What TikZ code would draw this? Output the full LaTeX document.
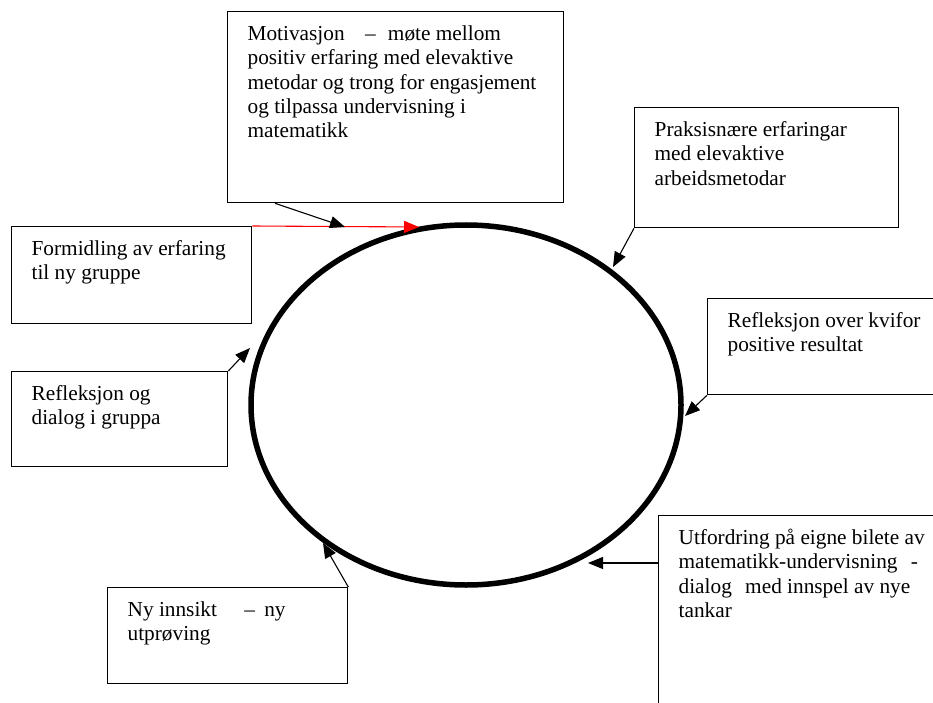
\documentclass[tikz,border=0pt]{standalone}
\usepackage{fontspec}
\setmainfont{Liberation Serif}
\usetikzlibrary{arrows.meta,shapes.geometric}

% innhald i boks: hogd, breidd, tekst (toppjustert)
\newcommand{\boksinnhald}[3]{\parbox[c][#1][t]{#2}{\raggedright\rule{0pt}{29pt}#3}}

\tikzset{
    boks/.style={draw, line width=1.3pt, anchor=north west, inner xsep=20pt,
        inner ysep=0pt, font=\fontsize{21.3}{24.2}\selectfont},
    pil/.style={-{Triangle[length=15pt,width=12pt]}, line width=1.1pt},
}

\begin{document}
\begin{tikzpicture}[x=1pt,y=-1pt]
    \useasboundingbox (0,0) rectangle (933,703);

    % Sirkelen
    \node[ellipse, draw, line width=5.5pt, minimum width=430pt, minimum height=360pt] (sirkel) at (466,405) {};

    % Boksane
    \node[boks] (motiv) at (227,11) {\boksinnhald{191pt}{296pt}{Motivasjon\hspace{15pt} --\hspace{7pt} møte mellom\\
        positiv erfaring med elevaktive\\ metodar og trong for engasjement\\ og tilpassa undervisning i\\ matematikk}};
    \node[boks] (praks) at (634,107) {\boksinnhald{120pt}{224pt}{Praksisnære erfaringar\\ med elevaktive\\ arbeidsmetodar}};
    \node[boks] (formid) at (11,226) {\boksinnhald{97pt}{200pt}{Formidling av erfaring\\ til ny gruppe}};
    \node[boks] (reflover) at (707,298) {\boksinnhald{96pt}{220pt}{Refleksjon over kvifor\\ positive resultat}};
    \node[boks] (reflog) at (11,371) {\boksinnhald{95pt}{176pt}{Refleksjon og\\ dialog i gruppa}};
    \node[boks] (utford) at (658,515) {\boksinnhald{220pt}{260pt}{Utfordring på eigne bilete av\\
        matematikk-undervisning\hspace{8pt} -\\ dialog\hspace{8pt} med innspel av nye\\ tankar}};
    \node[boks] (ny) at (107,587) {\boksinnhald{96pt}{200pt}{Ny innsikt\hspace{22pt} --\hspace{4pt} ny\\ utprøving}};

    % Pilspissar
    \coordinate (tipRod) at (419,227);
    \coordinate (tipMotiv) at (345,227);
    \coordinate (tipPraks) at (613,267);
    \coordinate (tipReflOver) at (685,416);
    \coordinate (tipUtford) at (588,563);
    \coordinate (tipNy) at (323,543);
    \coordinate (tipReflOg) at (250,348);

    % Pilene
    \draw[pil,red] (formid.north east) -- (tipRod);
    \draw[pil] ([xshift=48pt]motiv.south west) -- (tipMotiv);
    \draw[pil] (praks.south west) -- (tipPraks);
    \draw[pil] (reflover.south west) -- (tipReflOver);
    \draw[pil] ([yshift=-48pt]utford.north west) -- (tipUtford);
    \draw[pil] (ny.north east) -- (tipNy);
    \draw[pil] (reflog.north east) -- (tipReflOg);
\end{tikzpicture}
\end{document}
